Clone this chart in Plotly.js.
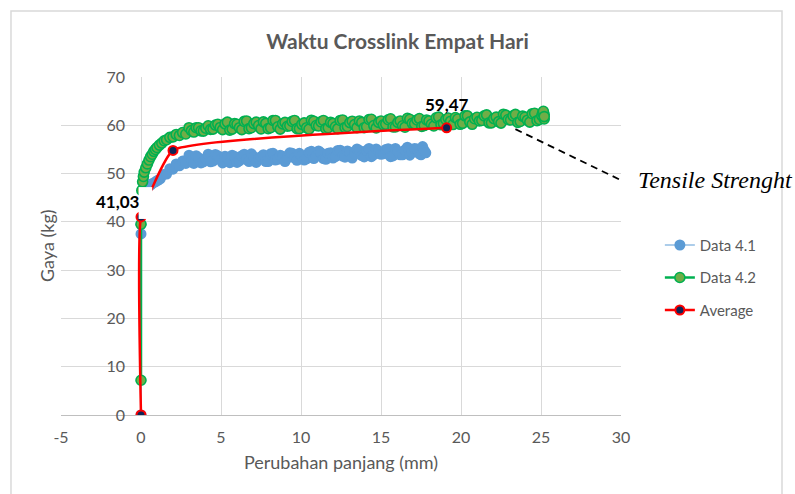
<!DOCTYPE html>
<html>
<head>
<meta charset="utf-8">
<script src="https://cdn.plot.ly/plotly-3.0.1.min.js"></script>
<style>html,body{margin:0;padding:0;background:#fff;}#chart{width:795px;height:494px;}</style>
</head>
<body>
<div id="chart"></div>
<script>
// ---- Data ----
const seriesNames = ["Data 4.1", "Data 4.2", "Average"];

const x41 = [0, 0, 0, 0.1, 0.2, 0.3, 0.45, 0.6, 0.75, 0.9, 1.05, 1.2, 1.4, 1.6, 1.8, 2.0, 2.2, 2.4, 2.6, 2.8,
  3.0, 3.15, 3.3, 3.45, 3.6, 3.75, 3.9, 4.05, 4.2, 4.35, 4.5, 4.65, 4.8, 4.95, 5.1, 5.25, 5.4, 5.55, 5.7, 5.85,
  6.0, 6.15, 6.3, 6.45, 6.6, 6.75, 6.9, 7.05, 7.2, 7.35, 7.5, 7.65, 7.8, 7.95, 8.1, 8.25, 8.4, 8.55, 8.7, 8.85,
  9.0, 9.15, 9.3, 9.45, 9.6, 9.75, 9.9, 10.05, 10.2, 10.35, 10.5, 10.65, 10.8, 10.95, 11.1, 11.25, 11.4, 11.55, 11.7, 11.85,
  12.0, 12.15, 12.3, 12.45, 12.6, 12.75, 12.9, 13.05, 13.2, 13.35, 13.5, 13.65, 13.8, 13.95, 14.1, 14.25, 14.4, 14.55, 14.7, 14.85,
  15.0, 15.15, 15.3, 15.45, 15.6, 15.75, 15.9, 16.05, 16.2, 16.35, 16.5, 16.65, 16.8, 16.95, 17.1, 17.25, 17.4, 17.5, 17.6, 17.7, 17.8];
const y41 = [0, 37.5, 39.5, 46.5, 47.2, 47.5, 47.8, 47.6, 48.0, 48.3, 48.6, 48.9, 49.8, 49.9, 51.0, 50.9, 52.0, 51.6, 52.6, 52.1,
  53.8, 52.7, 52.1, 53.7, 53.3, 52.2, 52.4, 53.1, 54.0, 52.45, 52.6, 53.95, 53.7, 52.9, 52.2, 53.6, 53.2, 52.25, 53.8, 53.55,
  52.3, 52.65, 53.7, 54.0, 52.9, 52.5, 54.1, 53.5, 52.3, 53.15, 53.5, 53.9, 52.5, 52.5, 54.1, 54.2, 52.8, 52.95, 53.8, 53.6,
  52.5, 53.2, 54.3, 54.2, 53.2, 52.75, 54.2, 53.7, 52.8, 53.05, 54.4, 54.6, 53.1, 53.6, 54.7, 54.3, 53.1, 52.95, 54.2, 54.3,
  53.2, 53.5, 54.8, 54.85, 53.6, 53.4, 54.7, 54.4, 53.2, 54.05, 55.1, 54.8, 53.7, 53.45, 54.8, 55.2, 53.5, 53.95, 55.1, 54.6,
  54.0, 54.1, 55.0, 55.15, 53.5, 53.65, 55.2, 54.6, 53.9, 53.9, 54.9, 55.45, 53.8, 54.4, 55.2, 55.1, 54.1, 53.9, 55.6, 54.8, 54.3];

const x42 = [0, 0, 0.05, 0.1, 0.15, 0.2, 0.3, 0.4, 0.5, 0.6, 0.7, 0.8, 0.9, 1.0, 1.15, 1.3, 1.45, 1.6, 1.8, 2.0,
  2.2, 2.4, 2.6, 2.8,
  3.0, 3.15, 3.3, 3.45, 3.6, 3.75, 3.9, 4.05, 4.2, 4.35, 4.5, 4.65, 4.8, 4.95, 5.1, 5.25, 5.4, 5.55, 5.7, 5.85,
  6.0, 6.15, 6.3, 6.45, 6.6, 6.75, 6.9, 7.05, 7.2, 7.35, 7.5, 7.65, 7.8, 7.95, 8.1, 8.25, 8.4, 8.55, 8.7, 8.85,
  9.0, 9.15, 9.3, 9.45, 9.6, 9.75, 9.9, 10.05, 10.2, 10.35, 10.5, 10.65, 10.8, 10.95, 11.1, 11.25, 11.4, 11.55, 11.7, 11.85,
  12.0, 12.15, 12.3, 12.45, 12.6, 12.75, 12.9, 13.05, 13.2, 13.35, 13.5, 13.65, 13.8, 13.95, 14.1, 14.25, 14.4, 14.55, 14.7, 14.85,
  15.0, 15.15, 15.3, 15.45, 15.6, 15.75, 15.9, 16.05, 16.2, 16.35, 16.5, 16.65, 16.8, 16.95, 17.1, 17.25, 17.4, 17.55, 17.7, 17.85,
  18.0, 18.15, 18.3, 18.45, 18.6, 18.75, 18.9, 19.05, 19.2, 19.35, 19.5, 19.65, 19.8, 19.95, 20.1, 20.25, 20.4, 20.55, 20.7, 20.85,
  21.0, 21.15, 21.3, 21.45, 21.6, 21.75, 21.9, 22.05, 22.2, 22.35, 22.5, 22.65, 22.8, 22.95, 23.1, 23.25, 23.4, 23.55, 23.7, 23.85,
  24.0, 24.15, 24.3, 24.45, 24.6, 24.75, 24.9, 25.05, 25.1, 25.2, 25.2, 25.15, 25.2];
const y42 = [7.2, 39.5, 46.5, 48.3, 49.4, 50.3, 51.2, 52.0, 52.8, 53.5, 54.0, 54.6, 55.0, 55.4, 55.9, 56.3, 56.8, 57.0, 57.5, 57.6,
  58.1, 57.9, 58.5, 58.2,
  59.5, 58.9, 58.6, 59.5, 59.5, 58.85, 58.8, 59.4, 59.9, 59.15, 59.2, 60.05, 60.2, 59.55, 59.1, 60.3, 60.65, 59.0, 59.2, 60.35,
  60.2, 59.5, 59.1, 60.8, 60.9, 59.3, 59.5, 60.35, 60.65, 59.95, 59.25, 60.7, 60.4, 59.3, 59.5, 61.0, 61.0, 59.7, 59.2, 60.3,
  60.6, 59.8, 59.9, 60.8, 61.0, 59.3, 59.3, 60.2, 60.5, 59.5, 59.2, 61.05, 60.85, 59.95, 59.85, 60.7, 61.0, 59.3, 59.5, 60.6,
  60.4, 59.7, 59.3, 61.0, 61.1, 59.55, 59.75, 60.55, 60.85, 60.15, 59.5, 60.9, 60.6, 59.5, 59.7, 61.2, 61.25, 59.95, 59.45, 60.6,
  60.9, 60.1, 60.2, 61.15, 61.35, 59.65, 59.65, 60.6, 60.9, 59.9, 59.6, 61.45, 61.25, 60.4, 60.3, 61.1, 61.4, 59.75, 59.95, 61.1,
  60.9, 60.2, 59.85, 61.55, 61.7, 60.1, 60.35, 61.2, 61.5, 60.85, 60.15, 61.6, 61.3, 60.2, 60.4, 61.95, 61.95, 60.7, 60.2, 61.35,
  61.65, 60.9, 61.0, 61.95, 62.15, 60.5, 60.5, 61.4, 61.7, 60.75, 60.45, 62.3, 62.1, 61.2, 61.1, 61.95, 62.25, 60.6, 60.8, 61.9,
  61.7, 61.05, 60.65, 62.4, 62.5, 60.95, 61.2, 62.0, 62.6, 61.3, 62.2, 62.9, 61.8];

const xAvg = [0, 0, 2.0, 19.1];
const yAvg = [0, 41.03, 54.8, 59.47];

const xTicks = [-5, 0, 5, 10, 15, 20, 25, 30];
const yTicks = [0, 10, 20, 30, 40, 50, 60, 70];

const labelLow = "41,03";
const labelHigh = "59,47";
const calloutText = "Tensile Strenght";

// ---- Chart ----
const FONT = "Lato, 'Open Sans', sans-serif";
const GREY = "#595959";

const traces = [
  {
    x: x41, y: y41, name: seriesNames[0], type: "scatter", mode: "lines+markers",
    line: {color: "#5B9BD5", width: 1},
    marker: {color: "#5B9BD5", size: 11, line: {color: "#5B9BD5", width: 0}},
    legendgroup: "a"
  },
  {
    x: x42, y: y42, name: seriesNames[1], type: "scatter", mode: "lines+markers",
    line: {color: "#00B050", width: 2.5},
    marker: {color: "#70AD47", size: 10, line: {color: "#00B050", width: 1.6}},
    legendgroup: "b"
  },
  {
    x: xAvg, y: yAvg, name: seriesNames[2], type: "scatter", mode: "lines+markers",
    line: {color: "#FF0000", width: 2.5, shape: "spline", smoothing: 0.35},
    marker: {color: "#0F2557", size: 9, line: {color: "#FF0000", width: 2}},
    legendgroup: "c"
  }
];

const layout = {
  width: 795, height: 494,
  margin: {l: 61, r: 174, t: 77, b: 79},
  paper_bgcolor: "#ffffff", plot_bgcolor: "#ffffff",
  font: {family: FONT, color: GREY, size: 15},
  title: {text: "<b>Waktu Crosslink Empat Hari</b>", font: {family: FONT, size: 21, color: GREY},
          x: 0.5, xref: "container", xanchor: "center", y: 0.915, yref: "container", yanchor: "middle"},
  showlegend: true,
  legend: {x: 1.0694, xanchor: "left", y: 0.551, yanchor: "top", font: {family: FONT, size: 15, color: GREY},
           tracegroupgap: 10, bgcolor: "rgba(0,0,0,0)"},
  xaxis: {
    range: [-5, 30], tickvals: xTicks, ticktext: xTicks.map(String),
    showgrid: true, gridcolor: "#D9D9D9", gridwidth: 1, zeroline: false,
    showline: true, linecolor: "#BFBFBF", linewidth: 1, mirror: false,
    ticks: "", ticklabelstandoff: 8,
    tickfont: {family: FONT, size: 16, color: GREY},
    title: {text: "Perubahan panjang (mm)", font: {family: FONT, size: 18, color: GREY}, standoff: 11}
  },
  yaxis: {
    range: [0, 70], tickvals: yTicks, ticktext: yTicks.map(String),
    anchor: "free", position: 1/7,
    showgrid: true, gridcolor: "#D9D9D9", gridwidth: 1, zeroline: false,
    showline: false, ticks: "", ticklabelstandoff: 16,
    tickfont: {family: FONT, size: 16, color: GREY}
  },
  shapes: [
    // outer chart border
    {type: "rect", xref: "paper", yref: "paper", x0: -0.0893, x1: 1.2875, y0: -0.3, y1: 1.1953,
     line: {color: "#D9D9D9", width: 1.5}, fillcolor: "rgba(0,0,0,0)", layer: "below"},
    // white label background next to the first label
    {type: "rect", xref: "x", yref: "y", x0: -0.15, x1: 0.7, y0: 40.6, y1: 47.2,
     line: {width: 0}, fillcolor: "#ffffff", layer: "above"},
    // callout dashed line
    {type: "line", xref: "x", yref: "y", x0: 23.4, y0: 59.2, x1: 29.95, y1: 48.7,
     line: {color: "#000000", width: 1.8, dash: "7px,5px"}, layer: "above"}
  ],
  annotations: [
    {text: "<b>" + labelLow + "</b>", xref: "x", yref: "y", x: -1.45, y: 44.2, showarrow: false,
     font: {family: FONT, size: 17, color: "#000000"}, xanchor: "center", yanchor: "middle"},
    {text: "<b>" + labelHigh + "</b>", xref: "x", yref: "y", x: 19.1, y: 64.4, showarrow: false,
     font: {family: FONT, size: 17, color: "#000000"}, xanchor: "center", yanchor: "middle"},
    {text: "<i>" + calloutText + "</i>", xref: "paper", yref: "paper", x: (636 - 61) / 560, y: (415 - 180) / 338,
     showarrow: false, xanchor: "left", yanchor: "middle",
     font: {family: "'Liberation Serif', 'DejaVu Serif', serif", size: 24, color: "#000000"}},
    {text: "Gaya (kg)", xref: "paper", yref: "paper", x: (47 - 61) / 560, y: 0.5, textangle: -90,
     showarrow: false, xanchor: "center", yanchor: "middle",
     font: {family: FONT, size: 18, color: GREY}}
  ]
};

Plotly.newPlot("chart", traces, layout, {displayModeBar: false, responsive: false, staticPlot: true});
</script>
</body>
</html>
